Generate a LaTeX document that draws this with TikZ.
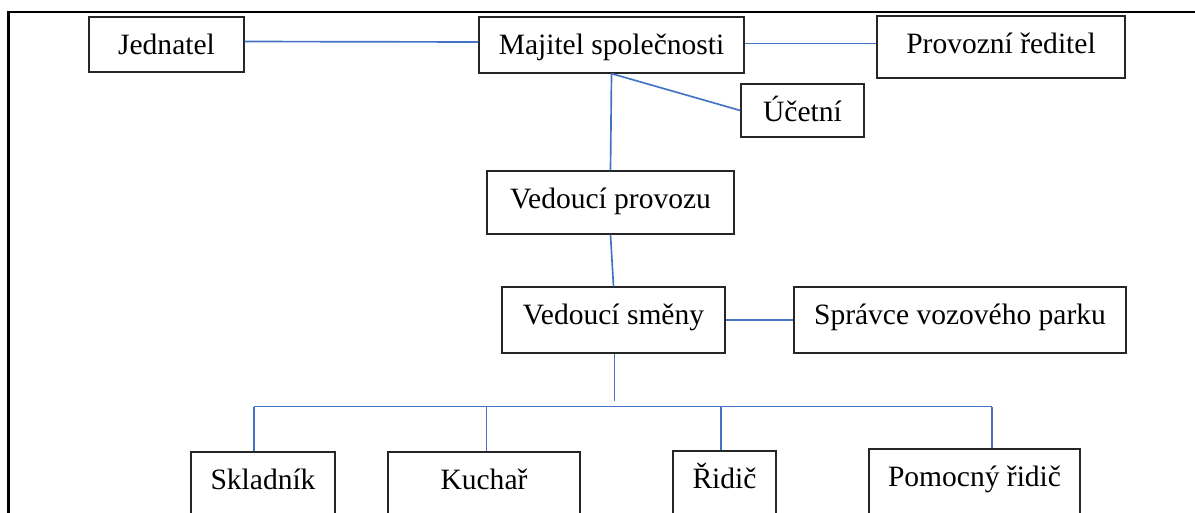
\documentclass[tikz,border=0pt]{standalone}
\usepackage{fontspec}
\setmainfont{Liberation Serif}
\definecolor{linkblue}{RGB}{68,114,196}
\begin{document}
\begin{tikzpicture}
            \clip (0,0) rectangle (23.9,-10.24);
            \draw[line width=1.2pt] (0.17,-11) -- (0.17,-0.24) -- (25,-0.24);

            \begin{scope}[every node/.style = {rectangle, draw=black!85, line width=0.7pt, anchor=base, inner xsep=0pt, inner ysep=0pt, text height=0.74cm, font=\fontsize{16.8}{20}\selectfont}]
                \node(1)[minimum width=3.10cm, text depth=0.36cm] at (3.33,-1.08) {Jednatel};
                \node(2)[minimum width=5.30cm, text depth=0.38cm] at (12.23,-1.08) {Majitel společnosti};
                \node(3)[minimum width=4.96cm, text depth=0.50cm] at (20.02,-1.06) {Provozní ředitel};
                \node(4)[minimum width=2.46cm, text depth=0.32cm] at (16.05,-2.42) {Účetní};
                \node(5)[minimum width=4.94cm, text depth=0.52cm] at (12.21,-4.16) {Vedoucí provozu};
                \node(6)[minimum width=4.46cm, text depth=0.58cm] at (12.27,-6.48) {Vedoucí směny};
                \node(7)[minimum width=6.64cm, text depth=0.58cm] at (19.20,-6.48) {Správce vozového parku};
                \node(8)[minimum width=2.88cm, text depth=0.56cm] at (5.26,-9.78) {Skladník};
                \node(9)[minimum width=3.84cm, text depth=0.56cm] at (9.68,-9.78) {Kuchař};
                \node(10)[minimum width=2.06cm, text depth=0.56cm] at (14.49,-9.76) {Řidič};
                \node(11)[minimum width=4.22cm, text depth=0.56cm] at (19.49,-9.72) {Pomocný řidič};
            \end{scope}

            % rozvodna cara pod vedoucim smeny
            \coordinate(t) at (12.29,-8.02);
            \coordinate(b1) at (5.08,-8.13);
            \coordinate(b2) at (9.73,-8.13);
            \coordinate(b3) at (14.42,-8.13);
            \coordinate(b4) at (19.84,-8.13);

            \begin{scope}[every edge/.style = {-, draw, linkblue, line width=0.95pt}]
                \path([yshift=0.06cm]1.east) edge[] ([yshift=0.06cm]2.west);
                \path([yshift=0.03cm]2.east) edge[] ([yshift=0.03cm]2.east -| 3.west);
                \path(2.south) edge[] (5.north);
                \path(2.south) edge[] (4.west);
                \path(5.south) edge[] (6.north);
                \path(6.east) edge[] (7.west);
                \path(6.south -| t) edge[] (t);
                \path(b1) edge[] (b4);
                \path(b1) edge[] (b1 |- 8.north);
                \path(b2) edge[] (b2 |- 9.north);
                \path(b3) edge[] (b3 |- 10.north);
                \path(b4) edge[] (b4 |- 11.north);
            \end{scope}
        \end{tikzpicture}
\end{document}
